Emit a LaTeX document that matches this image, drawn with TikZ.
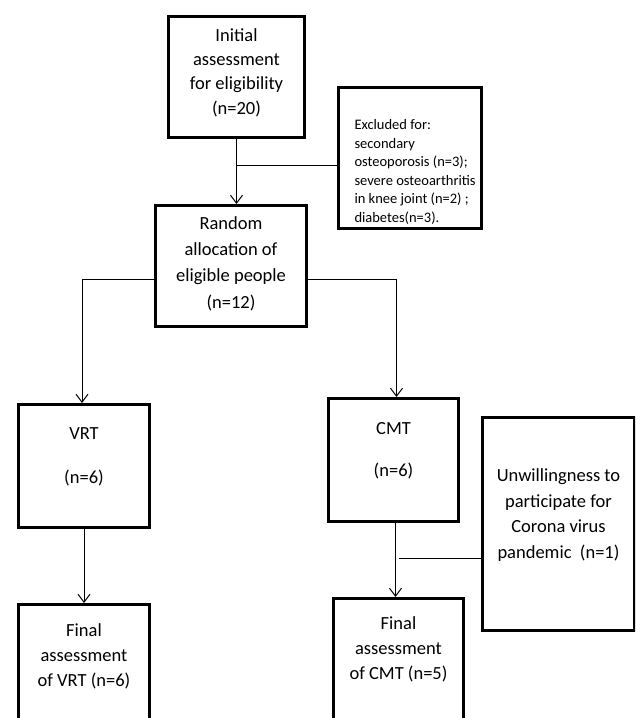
\documentclass[tikz,border=0pt]{standalone}
\usepackage{fontspec}
\setmainfont{Carlito}
\usetikzlibrary{arrows.meta, positioning}
\tikzset{every picture/.style={x=1pt,y=-1pt}}

\begin{document}
\begin{tikzpicture}[
			every node/.style={inner sep=0pt, font=\fontsize{18.5}{25}\selectfont},
			box/.style={draw, line width=3pt, anchor=north west},
			link/.style={line width=1pt},
			arrow/.style={link, -{Straight Barb[length=8pt, width=12pt]}}
		]
		\path[use as bounding box, clip] (0,0) rectangle (635,718);
		\node (init) [box] at (167,15)
		{
            \begin{minipage}[t][121pt]{136pt}
                \centering\fontsize{18.5}{24.3}\selectfont\vspace*{12pt}
                Initial\\ assessment\\ for eligibility\\ (n=20)
			\end{minipage}};
		\node (excl) [box] at (337,86)
		{
            \begin{minipage}[t][141pt]{143pt}
                \fontsize{14.5}{18.5}\selectfont\raggedright\leftskip=16pt
                \vspace*{32pt}
                Excluded for:\\ secondary\\ osteoporosis (n=3);\\ severe osteoarthritis\\ in knee joint (n=2) ;\\ diabetes(n=3).
			\end{minipage}};
		\node (rand) [box] at (154,204)
		{
            \begin{minipage}[t][121pt]{151pt}
                \centering\fontsize{18.5}{26.3}\selectfont\vspace*{11pt}
                Random\\ allocation of\\ eligible people\\ (n=12)
			\end{minipage}};
		\node (vrt) [box] at (17,403)
		{
            \begin{minipage}[t][123pt]{131pt}
                \centering\vspace*{23pt}
                VRT\\[19pt] (n=6)
			\end{minipage}};
		\node (cmt) [box] at (327,397)
		{
            \begin{minipage}[t][123pt]{130pt}
                \centering\vspace*{24pt}
                CMT\\[17pt] (n=6)
			\end{minipage}};
		\node (finv) [box, below=74pt of vrt]
		{
            \begin{minipage}[t][123pt]{131pt}
                \centering\vspace*{19.5pt}
                Final\\ assessment\\ of VRT (n=6)
			\end{minipage}};
		\node (finc) [box, below=74pt of cmt, xshift=5pt]
		{
            \begin{minipage}[t][122pt]{130pt}
                \centering\vspace*{18.5pt}
                Final\\ assessment\\ of CMT (n=5)
			\end{minipage}};
		\node (unw) [box] at (481,416)
		{
            \begin{minipage}[t][213pt]{152pt}
                \centering\fontsize{18.5}{25.7}\selectfont\vspace*{51pt}
                Unwillingness to\\ participate for\\ Corona virus\\ pandemic~~(n=1)
			\end{minipage}};
		% connectors
		\draw[arrow] (init.south) -- (init.south |- rand.north);
		\draw[link] ([yshift=-7.5pt]excl.west) -- ([yshift=-7.5pt]excl.west -| init.south);
		\draw[arrow] ([yshift=-13.5pt]rand.east) -| ([xshift=3pt]cmt.north);
		\draw[arrow] ([yshift=-13.5pt]rand.west) -| ([xshift=-2pt]vrt.north);
		\draw[arrow] (vrt.south) -- (finv.north);
		\draw[arrow] ([xshift=2pt]cmt.south) -- ([xshift=2pt]cmt.south |- finc.north);
		\draw[link] ([yshift=-34.5pt]unw.west) -- ([yshift=-34.5pt]unw.west -| finc.north);
	\end{tikzpicture}
\end{document}
